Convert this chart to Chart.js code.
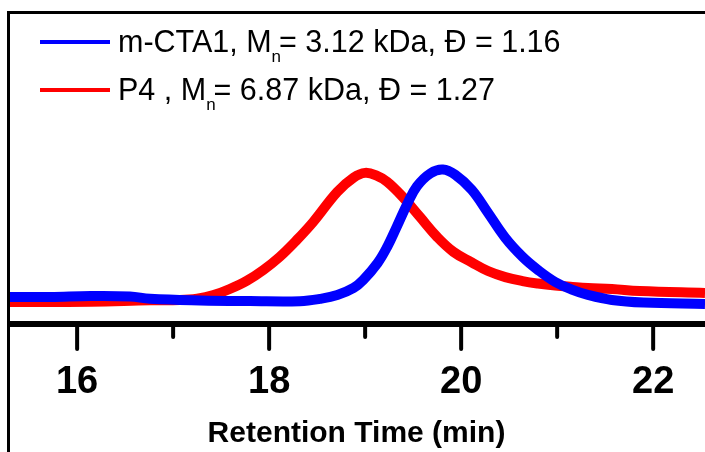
<!DOCTYPE html>
<html lang="en">
<head>
<meta charset="UTF-8">
<title>GPC traces</title>
<script src="https://cdn.jsdelivr.net/npm/chart.js@4.4.1/dist/chart.umd.min.js"></script>
<style>
    body {
        margin: 0;
        padding: 0;
        background: #fff;
    }
    #wrap {
        width: 705px;
        height: 452px;
    }
</style>
</head>
<body>
<div id="wrap"><canvas id="gpc"></canvas></div>
<script>
// retention time (min) and normalised RI signal
const blueTime = [15.30, 15.72, 16.14, 16.55, 16.76, 17.28, 17.80, 18.32, 18.53, 18.71, 18.88, 18.98, 19.13, 19.23, 19.33, 19.44, 19.54, 19.68, 19.81, 19.94, 20.11, 20.28, 20.46, 20.64, 20.80, 20.98, 21.16, 21.32, 21.57, 21.90, 22.54];
const blueSignal = [0.178, 0.178, 0.184, 0.181, 0.166, 0.155, 0.151, 0.150, 0.165, 0.190, 0.237, 0.289, 0.401, 0.507, 0.640, 0.790, 0.905, 0.990, 1.015, 0.980, 0.882, 0.730, 0.566, 0.441, 0.355, 0.276, 0.224, 0.191, 0.158, 0.141, 0.132];

const redTime = [15.30, 16.14, 16.76, 17.07, 17.25, 17.42, 17.59, 17.77, 17.94, 18.11, 18.29, 18.46, 18.71, 18.88, 19.00, 19.12, 19.23, 19.39, 19.57, 19.75, 19.92, 20.11, 20.28, 20.46, 20.64, 20.80, 20.98, 21.16, 21.32, 21.57, 21.86, 22.54];
const redSignal = [0.145, 0.147, 0.156, 0.158, 0.167, 0.190, 0.230, 0.285, 0.355, 0.441, 0.553, 0.671, 0.868, 0.962, 0.993, 0.975, 0.934, 0.836, 0.704, 0.572, 0.474, 0.405, 0.348, 0.308, 0.282, 0.266, 0.253, 0.244, 0.237, 0.230, 0.217, 0.204];

const tickValues = [16, 17, 18, 19, 20, 21, 22];
const legendNames = ['m-CTA1', 'P4 '];
const legendMn = ['3.12', '6.87'];
const legendDispersity = ['1.16', '1.27'];
const seriesColors = ['#0000ff', '#ff0000'];

function toPoints(xs, ys) {
    return xs.map((x, i) => ({ x: x, y: ys[i] }));
}

const FONT = "'Liberation Sans', Arial, sans-serif";

// frame, axis line, tick marks and the legend with subscripts
const decorations = {
    id: 'decorations',
    afterDatasetsDraw(chart) {
        const ctx = chart.ctx;
        const area = chart.chartArea;
        const xs = chart.scales.x;
        ctx.save();
        ctx.strokeStyle = '#000';

        // outer frame (left + top)
        ctx.lineWidth = 3;
        ctx.beginPath();
        ctx.moveTo(8.5, 452);
        ctx.lineTo(8.5, 12.5);
        ctx.lineTo(705, 12.5);
        ctx.stroke();

        // x axis line
        ctx.lineWidth = 6;
        ctx.beginPath();
        ctx.moveTo(area.left, area.bottom);
        ctx.lineTo(area.right, area.bottom);
        ctx.stroke();

        // ticks
        ctx.lineWidth = 4;
        ctx.lineCap = 'round';
        tickValues.forEach(v => {
            const px = xs.getPixelForValue(v);
            const len = v % 2 === 0 ? 25 : 13;
            ctx.beginPath();
            ctx.moveTo(px, area.bottom + 2);
            ctx.lineTo(px, area.bottom + len);
            ctx.stroke();
        });
        ctx.lineCap = 'butt';

        // legend
        const rows = [52, 100];
        rows.forEach((base, i) => {
            ctx.strokeStyle = seriesColors[i];
            ctx.lineWidth = 4;
            ctx.beginPath();
            ctx.moveTo(40, base - 10);
            ctx.lineTo(110, base - 10);
            ctx.stroke();

            ctx.fillStyle = '#000';
            ctx.textBaseline = 'alphabetic';
            ctx.font = '30.5px ' + FONT;
            let x = 118;
            const head = legendNames[i] + ', M';
            ctx.fillText(head, x, base);
            x += ctx.measureText(head).width;
            ctx.font = '17px ' + FONT;
            ctx.fillText('n', x, base + 10);
            x += ctx.measureText('n').width - 2;
            ctx.font = '30.5px ' + FONT;
            ctx.fillText('= ' + legendMn[i] + ' kDa, \u0110 = ' + legendDispersity[i], x, base);
        });
        ctx.restore();
    }
};

new Chart(document.getElementById('gpc'), {
    type: 'line',
    data: {
        datasets: [
            {
                label: 'm-CTA1',
                data: toPoints(blueTime, blueSignal),
                borderColor: seriesColors[0],
                borderWidth: 10,
                pointRadius: 0,
                tension: 0.4,
                fill: false
            },
            {
                label: 'P4',
                data: toPoints(redTime, redSignal),
                borderColor: seriesColors[1],
                borderWidth: 10,
                pointRadius: 0,
                tension: 0.4,
                fill: false
            }
        ]
    },
    options: {
        responsive: true,
        maintainAspectRatio: false,
        animation: false,
        layout: {
            padding: { left: 8, top: 12, right: 0, bottom: 0 }
        },
        plugins: {
            legend: { display: false },
            tooltip: { enabled: false }
        },
        scales: {
            x: {
                type: 'linear',
                min: 15.28,
                max: 22.54,
                afterBuildTicks: scale => {
                    scale.ticks = tickValues.map(v => ({ value: v }));
                },
                afterFit: scale => {
                    scale.height = 128;
                    scale.paddingLeft = 0;
                    scale.paddingRight = 0;
                },
                grid: { display: false, drawTicks: false },
                border: { display: false },
                ticks: {
                    autoSkip: false,
                    maxRotation: 0,
                    padding: 36,
                    color: '#000',
                    font: { family: FONT, size: 38, weight: 'bold' },
                    callback: v => (v % 2 === 0 ? String(v) : '')
                },
                title: {
                    display: true,
                    text: 'Retention Time (min)',
                    color: '#000',
                    font: { family: FONT, size: 30, weight: 'bold' },
                    padding: { top: 0, bottom: 0 }
                }
            },
            y: {
                display: false,
                min: 0,
                max: 2.05
            }
        }
    },
    plugins: [decorations]
});
</script>
</body>
</html>
